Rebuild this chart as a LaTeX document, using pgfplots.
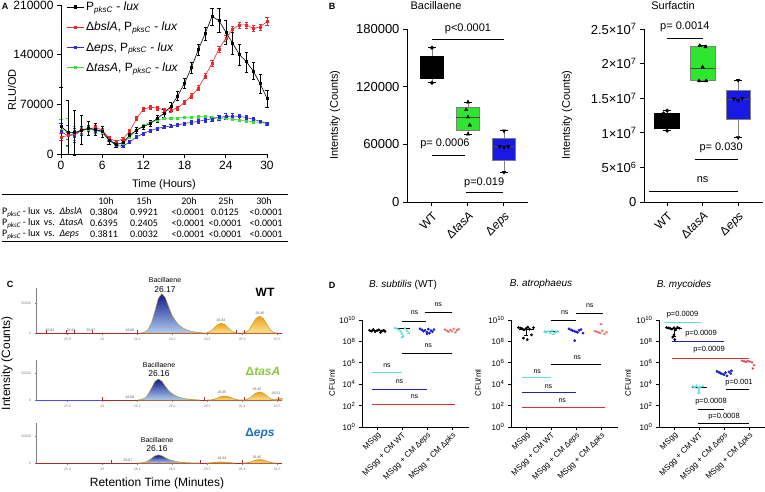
\documentclass[border=0pt]{standalone}
\usepackage{fontspec}
\setmainfont{Liberation Sans}
\newfontfamily\calfont{Carlito}
\usepackage{pgfplots}
\pgfplotsset{compat=1.18}
\newcommand\fs[1]{\fontsize{#1}{#1}\selectfont}

\definecolor{cred}{RGB}{232,40,42}
\definecolor{cblue}{RGB}{45,45,215}
\definecolor{cgreen}{RGB}{60,220,60}
\definecolor{bgreen}{RGB}{45,230,45}
\definecolor{bblue}{RGB}{25,25,230}
\definecolor{dcyan}{RGB}{95,225,225}
\definecolor{dblue}{RGB}{30,30,205}
\definecolor{dred}{RGB}{225,45,45}
\definecolor{dpink}{RGB}{225,95,95}
\definecolor{pkdark}{RGB}{15,25,140}
\definecolor{pklight}{RGB}{175,205,238}
\definecolor{ordark}{RGB}{240,160,20}
\definecolor{orlight}{RGB}{252,228,150}
\definecolor{pkline}{RGB}{190,160,50}
\definecolor{baser}{RGB}{170,45,45}
\definecolor{tasgreen}{RGB}{140,200,60}
\definecolor{epsblue}{RGB}{30,110,190}

\tikzset{ln/.style={line width=1pt}}
\pgfplotsset{
  gp/.style={scale only axis, anchor=south west, clip=false,
    axis x line*=bottom, axis y line*=left, tick align=outside,
    axis line style={line width=1pt}, tick style={black,line width=1pt},
    major tick length=4pt, /pgf/number format/assume math mode=true,
    scaled ticks=false,
    yticklabel style={/pgf/number format/fixed,/pgf/number format/1000 sep={}}},
  cstyle/.style={scale only axis, anchor=south west, clip=false,
    axis x line*=bottom, axis y line*=left, width=246pt,
    xmin=25.81, xmax=26.514, ymin=0, tick align=outside, scaled ticks=false,
    major tick length=1.5pt, tick style={gray,line width=0.3pt},
    axis line style={gray,line width=0.4pt},
    x axis line style={baser,line width=0.9pt},
    xtick={25.9,26,26.1,26.2,26.3,26.4,26.5},
    xticklabels={25.9,26,26.1,26.2,26.3,26.4,26.5},
    ytick={0,50000}, yticklabels={0,50000},
    tick label style={font=\fs{3.5}, text=gray}},
  dstyle/.style={scale only axis, anchor=south west, clip=false,
    axis x line*=bottom, axis y line*=left, width=107pt, height=107pt,
    ymin=1, ymax=1e10, ytick={1,1e2,1e4,1e6,1e8,1e10},
    yticklabels={10\textsuperscript{0},10\textsuperscript{2},10\textsuperscript{4},
      10\textsuperscript{6},10\textsuperscript{8},10\textsuperscript{10}},
    yminorticks=false, xmin=-0.6, xmax=3.68, xtick={0,1,2,3},
    xticklabels={MSgg, MSgg + CM WT, MSgg + CM Δ\textit{eps}, MSgg + CM Δ\textit{pks}},
    xticklabel style={rotate=45, anchor=north east, font=\fs{8}, inner sep=1pt},
    yticklabel style={font=\fs{8}}, tick align=outside, major tick length=3pt,
    axis line style={line width=0.8pt}, tick style={black,line width=0.8pt}},
  wh/.style={gray, line width=0.8pt},
  cap/.style={black, line width=0.8pt},
  md/.style={black!70, line width=0.6pt},
  pa/.style={line width=0.6pt, mark size=1pt,
    error bars/y dir=both, error bars/y explicit,
    error bars/error bar style={line width=0.5pt},
    error bars/error mark options={rotate=90,mark size=1.6pt}}
}

\begin{document}
\begin{tikzpicture}[x=1pt,y=1pt]
\useasboundingbox (0,0) rectangle (765,-491);

% ---------------- Panel A ----------------
\node[font=\bfseries\fs{9}] at (5,-6) {A};
\begin{axis}[gp, at={(61pt,-154pt)}, width=206pt, height=149pt,
  xmin=0, xmax=30, ymin=0, ymax=210000,
  xtick={0,6,12,18,24,30}, ytick={0,70000,140000,210000},
  tick label style={font=\fs{12}},
  legend cell align=left,
  legend style={at={(0.025,1.035)}, anchor=north west, draw=none, fill=none,
    font=\fs{12}, row sep=6pt, inner sep=0pt}]
\addlegendimage{black, mark=square*, mark size=1.2pt, line width=0.8pt}
\addlegendentry{P\textsubscript{\textit{pksC}} - \textit{lux}}
\addlegendimage{cred, mark=square*, mark size=1.2pt, line width=0.8pt}
\addlegendentry{Δ\textit{bslA}, P\textsubscript{\textit{pksC}} - \textit{lux}}
\addlegendimage{cblue, mark=square*, mark size=1.2pt, line width=0.8pt}
\addlegendentry{Δ\textit{eps}, P\textsubscript{\textit{pksC}} - \textit{lux}}
\addlegendimage{cgreen, mark=square*, mark size=1.2pt, line width=0.8pt}
\addlegendentry{Δ\textit{tasA}, P\textsubscript{\textit{pksC}} - \textit{lux}}
% dtasA
\addplot[forget plot, cgreen, mark=square*, pa] coordinates {
 (0,34000)+-(0,15000) (1,31000)+-(0,20000) (2,29000)+-(0,10000) (3,33000)+-(0,5000)
 (4,35000)+-(0,3000) (5,33000)+-(0,3000) (6,31000)+-(0,2500) (7,20000)+-(0,2000)
 (8,14000)+-(0,1500) (9,15000)+-(0,1500) (10,24000)+-(0,1500) (11,33000)+-(0,1500)
 (12,40000)+-(0,1500) (13,45000)+-(0,1500) (14,48000)+-(0,1500) (15,50000)+-(0,1500)
 (16,50500)+-(0,1500) (17,51000)+-(0,1500) (18,51500)+-(0,1500) (19,52000)+-(0,1500)
 (20,52500)+-(0,1500) (21,52500)+-(0,1500) (22,52000)+-(0,1500) (23,51000)+-(0,1500)
 (24,50000)+-(0,1500) (25,49000)+-(0,1500) (26,48000)+-(0,1500) (27,46500)+-(0,1500)
 (28,45500)+-(0,1500) (29,44500)+-(0,1500) (30,43000)+-(0,1500)};
% deps
\addplot[forget plot, cblue, mark=square*, pa] coordinates {
 (0,31500)+-(0,12000) (1,26000)+-(0,14000) (2,27000)+-(0,10000) (3,33000)+-(0,6000)
 (4,36000)+-(0,4000) (5,34000)+-(0,3000) (6,32000)+-(0,3000) (7,22000)+-(0,2500)
 (8,12000)+-(0,2000) (9,11000)+-(0,2000) (10,17000)+-(0,2000) (11,24000)+-(0,2000)
 (12,29000)+-(0,2000) (13,33000)+-(0,2000) (14,36000)+-(0,2000) (15,38000)+-(0,2000)
 (16,39500)+-(0,2000) (17,41000)+-(0,2000) (18,43000)+-(0,2500) (19,44500)+-(0,2500)
 (20,46000)+-(0,2500) (21,48000)+-(0,3000) (22,49500)+-(0,3000) (23,51500)+-(0,3500)
 (24,53000)+-(0,4000) (25,53500)+-(0,4000) (26,53000)+-(0,3500) (27,51500)+-(0,3000)
 (28,49000)+-(0,2500) (29,46000)+-(0,2000) (30,43000)+-(0,2000)};
% dbslA
\addplot[forget plot, cred, mark=square*, pa] coordinates {
 (0,24000)+-(0,5000) (1,26000)+-(0,5000) (2,29000)+-(0,5000) (3,33000)+-(0,4000)
 (4,36000)+-(0,3000) (5,37000)+-(0,3000) (6,34000)+-(0,3000) (7,22000)+-(0,2500)
 (8,18000)+-(0,2000) (9,21000)+-(0,2000) (10,32000)+-(0,2500) (11,50000)+-(0,3000)
 (12,63000)+-(0,3000) (13,66000)+-(0,3000) (14,65000)+-(0,3000) (15,62000)+-(0,3000)
 (16,62000)+-(0,3000) (17,65000)+-(0,3000) (18,73000)+-(0,3000) (19,82000)+-(0,3000)
 (20,93000)+-(0,3500) (21,110000)+-(0,3500) (22,128000)+-(0,4000) (23,148000)+-(0,4000)
 (24,163000)+-(0,4500) (25,176000)+-(0,4500) (26,182000)+-(0,4000) (27,182000)+-(0,4000)
 (28,177000)+-(0,4000) (29,179000)+-(0,4500) (30,187000)+-(0,6000)};
% PpksC-lux
\addplot[forget plot, black, mark=square*, pa] coordinates {
 (0,38500) += (0,55000) -= (0,38500) (1,31000) += (0,45000) -= (0,31000)
 (2,30000)+-(0,32000) (3,34000)+-(0,20000)
 (4,36000)+-(0,10000) (5,35000)+-(0,8000) (6,31500)+-(0,8000) (7,19000)+-(0,5000)
 (8,13000)+-(0,3000) (9,16000)+-(0,4000) (10,26000)+-(0,4000) (11,34000)+-(0,4000)
 (12,38500)+-(0,4000) (13,43000)+-(0,4000) (14,50000)+-(0,5000) (15,57500)+-(0,5000)
 (16,67000)+-(0,6000) (17,82000)+-(0,6000) (18,100000)+-(0,7000) (19,122000)+-(0,8000)
 (20,147000)+-(0,8000) (21,170000)+-(0,9000) (22,194000)+-(0,12000) (23,188000)+-(0,17000)
 (24,172000)+-(0,17000) (25,156000)+-(0,15000) (26,140000)+-(0,15000) (27,130000)+-(0,14000)
 (28,117000)+-(0,12000) (29,99000)+-(0,13000) (30,78500)+-(0,12000)};
\end{axis}
\node[rotate=90, font=\fs{11}] at (12,-90) {RLU/OD};
\node[font=\fs{11}] at (164,-185) {Time (Hours)};

% table under panel A
\draw[line width=1pt] (2,-194) -- (288,-194);
\draw[line width=1pt] (2,-241) -- (288,-241);
\begin{scope}[every node/.style={font=\calfont\fs{10}, inner sep=0pt}]
\node at (106,-201) {10h}; \node at (144,-201) {15h}; \node at (189,-201) {20h};
\node at (226,-201) {25h}; \node at (264,-201) {30h};
\node[anchor=west] at (2,-212.5) {P\textsubscript{\textit{pksC}}\,- lux\, vs.\, \textit{ΔbslA}};
\node[anchor=west] at (2,-223.5) {P\textsubscript{\textit{pksC}}\,- lux\, vs.\, \textit{ΔtasA}};
\node[anchor=west] at (2,-234.5) {P\textsubscript{\textit{pksC}}\,- lux\, vs.\, \textit{Δeps}};
\node at (104,-212.5) {0.3804}; \node at (144,-212.5) {0.9921}; \node at (188,-212.5) {<0.0001};
\node at (225,-212.5) {0.0125}; \node at (266,-212.5) {<0.0001};
\node at (104,-223.5) {0.6395}; \node at (144,-223.5) {0.2405}; \node at (188,-223.5) {<0.0001};
\node at (225,-223.5) {<0.0001}; \node at (266,-223.5) {<0.0001};
\node at (104,-234.5) {0.3811}; \node at (144,-234.5) {0.0032}; \node at (188,-234.5) {<0.0001};
\node at (225,-234.5) {<0.0001}; \node at (266,-234.5) {<0.0001};
\end{scope}

% ---------------- Panel B: Bacillaene ----------------
\node[font=\bfseries\fs{9}] at (332,-6) {B};
\node[font=\fs{11}] at (436,-6) {Bacillaene};
\begin{axis}[gp, at={(407pt,-202pt)}, width=121pt, height=173pt,
  xmin=-0.694, xmax=2.667, ymin=0, ymax=180000,
  xtick={0,1,2}, xticklabels={WT, Δ\textit{tasA}, Δ\textit{eps}},
  xticklabel style={rotate=45, anchor=north east, font=\fs{12}},
  ytick={0,60000,120000,180000}, yticklabel style={font=\fs{13}}]
% WT box
\addplot[wh] coordinates {(0,152000) (0,160500)};
\addplot[wh] coordinates {(0,129000) (0,124000)};
\addplot[cap] coordinates {(-0.11,160500) (0.11,160500)};
\addplot[cap] coordinates {(-0.11,124000) (0.11,124000)};
\addplot[fill=black, draw=black] coordinates {(-0.32,129000) (0.32,129000) (0.32,152000) (-0.32,152000)} -- cycle;
% tasA box
\addplot[wh] coordinates {(1,98800) (1,104000)};
\addplot[wh] coordinates {(1,75000) (1,70700)};
\addplot[cap] coordinates {(0.89,104000) (1.11,104000)};
\addplot[cap] coordinates {(0.89,70700) (1.11,70700)};
\addplot[fill=bgreen, draw=black!50] coordinates {(0.68,75000) (1.32,75000) (1.32,98800) (0.68,98800)} -- cycle;
\addplot[md] coordinates {(0.68,88400) (1.32,88400)};
% eps box
\addplot[wh] coordinates {(2,66500) (2,74000)};
\addplot[wh] coordinates {(2,43000) (2,31000)};
\addplot[cap] coordinates {(1.89,74000) (2.11,74000)};
\addplot[cap] coordinates {(1.89,31000) (2.11,31000)};
\addplot[fill=bblue, draw=black!50] coordinates {(1.68,43000) (2.32,43000) (2.32,66500) (1.68,66500)} -- cycle;
\addplot[md] coordinates {(1.68,57500) (2.32,57500)};
\addplot[only marks, mark=*, mark size=1.8pt, black] coordinates {
  (0,160500) (0,124000) (0,148000) (-0.1,138000) (0.1,133000)};
\addplot[only marks, mark=triangle*, mark size=2pt, black] coordinates {
  (1,104000) (0.95,96000) (1,88400) (1.05,80000) (1,70700)};
\addplot[only marks, mark=triangle*, mark size=2pt, black, mark options={rotate=180}] coordinates {
  (2,74000) (1.88,58000) (2,57000) (2.12,58000) (2,31000)};
\draw[ln] (axis cs:0,169600) -- (axis cs:2,169600);
\node[font=\fs{11}] at (axis cs:1,180000) {p<0.0001};
\draw[ln] (axis cs:0,47900) -- (axis cs:0.92,47900);
\node[font=\fs{11}] at (axis cs:0.36,60300) {p= 0.0006};
\draw[ln] (axis cs:0.94,9400) -- (axis cs:1.97,9400);
\node[font=\fs{11}] at (axis cs:1.45,19800) {p=0.019};
\end{axis}
\node[rotate=90, font=\fs{11}] at (335,-115) {Intentsity (Counts)};

% ---------------- Panel B: Surfactin ----------------
\node[font=\fs{11}] at (673,-6) {Surfactin};
\begin{axis}[gp, at={(644pt,-202pt)}, width=119pt, height=173pt,
  xmin=-0.65, xmax=2.7, ymin=0, ymax=2.5e7,
  xtick={0,1,2}, xticklabels={WT, Δ\textit{tasA}, Δ\textit{eps}},
  xticklabel style={rotate=45, anchor=north east, font=\fs{12}},
  ytick={0,5e6,1e7,1.5e7,2e7,2.5e7},
  yticklabels={0, 5×10\textsuperscript{6}, 1×10\textsuperscript{7},
    1.5×10\textsuperscript{7}, 2×10\textsuperscript{7}, 2.5×10\textsuperscript{7}},
  yticklabel style={font=\fs{13}}]
% WT box
\addplot[wh] coordinates {(0,1.29e7) (0,1.32e7)};
\addplot[wh] coordinates {(0,1.065e7) (0,1.03e7)};
\addplot[cap] coordinates {(-0.12,1.32e7) (0.12,1.32e7)};
\addplot[cap] coordinates {(-0.12,1.03e7) (0.12,1.03e7)};
\addplot[fill=black, draw=black] coordinates {(-0.35,1.065e7) (0.35,1.065e7) (0.35,1.29e7) (-0.35,1.29e7)} -- cycle;
% tasA box
\addplot[wh] coordinates {(1,2.245e7) (1,2.27e7)};
\addplot[cap] coordinates {(0.88,2.27e7) (1.12,2.27e7)};
\addplot[cap] coordinates {(0.88,1.75e7) (1.12,1.75e7)};
\addplot[fill=bgreen, draw=black!50] coordinates {(0.65,1.763e7) (1.35,1.763e7) (1.35,2.245e7) (0.65,2.245e7)} -- cycle;
\addplot[md] coordinates {(0.65,1.93e7) (1.35,1.93e7)};
% eps box
\addplot[wh] coordinates {(2,1.62e7) (2,1.76e7)};
\addplot[wh] coordinates {(2,1.2e7) (2,9.3e6)};
\addplot[cap] coordinates {(1.88,1.76e7) (2.12,1.76e7)};
\addplot[cap] coordinates {(1.88,9.3e6) (2.12,9.3e6)};
\addplot[fill=bblue, draw=black!50] coordinates {(1.65,1.2e7) (2.35,1.2e7) (2.35,1.62e7) (1.65,1.62e7)} -- cycle;
\addplot[md] coordinates {(1.65,1.49e7) (2.35,1.49e7)};
\addplot[only marks, mark=*, mark size=1.8pt, black] coordinates {
  (0,1.32e7) (0,1.03e7) (-0.1,1.28e7) (0.1,1.22e7) (0,1.1e7)};
\addplot[only marks, mark=triangle*, mark size=2pt, black] coordinates {
  (0.92,2.26e7) (1.08,2.24e7) (1,1.95e7) (0.9,1.75e7) (1.1,1.75e7)};
\addplot[only marks, mark=triangle*, mark size=2pt, black, mark options={rotate=180}] coordinates {
  (2,1.76e7) (1.88,1.49e7) (2,1.47e7) (2.12,1.5e7) (2,9.3e6)};
\draw[ln] (axis cs:0,2.37e7) -- (axis cs:1.01,2.37e7);
\node[font=\fs{11}] at (axis cs:0.5,2.53e7) {p= 0.0014};
\draw[ln] (axis cs:0.79,6.2e6) -- (axis cs:2,6.2e6);
\node[font=\fs{11}] at (axis cs:1.52,7.8e6) {p= 0.030};
\draw[ln] (axis cs:-0.5,1.45e6) -- (axis cs:2,1.45e6);
\node[font=\fs{11}] at (axis cs:1,3.2e6) {ns};
\end{axis}
\node[rotate=90, font=\fs{11}] at (567,-115) {Intentsity (Counts)};

% ---------------- Panel C ----------------
\node[font=\bfseries\fs{9}] at (10,-284) {C};
\begin{axis}[cstyle, at={(36pt,-333pt)}, height=45pt, ymax=75000]
\addplot[draw=pkline, line width=0.5pt, top color=pkdark, bottom color=pklight] coordinates {
 (26.11,0) (26.12,1300) (26.13,5200) (26.14,16400) (26.15,36000) (26.16,57600)
 (26.17,65500) (26.18,59000) (26.19,43200) (26.20,28800) (26.21,19600) (26.22,13100)
 (26.23,8500) (26.24,5600) (26.25,3600) (26.26,2300) (26.27,1300) (26.28,650) (26.29,0)} \closedcycle;
\addplot[draw=pkline, line width=0.5pt, top color=ordark, bottom color=orlight] coordinates {
 (26.29,0) (26.30,480) (26.31,3200) (26.32,8800) (26.33,14100) (26.34,16000) (26.35,14100)
 (26.36,8800) (26.37,3200) (26.38,480) (26.39,0)} \closedcycle;
\addplot[draw=pkline, line width=0.5pt, top color=ordark, bottom color=orlight] coordinates {
 (26.40,0) (26.41,840) (26.42,5600) (26.43,15400) (26.44,24600) (26.45,28000) (26.46,24600)
 (26.47,15400) (26.48,5600) (26.49,840) (26.50,0)} \closedcycle;
\end{axis}
\begin{axis}[cstyle, at={(36pt,-400pt)}, height=40pt, ymax=74000]
\addplot[draw=pkline, line width=0.5pt, top color=pkdark, bottom color=pklight] coordinates {
 (26.10,0) (26.11,780) (26.12,3100) (26.13,9700) (26.14,21400) (26.15,34200) (26.16,38900)
 (26.17,35000) (26.18,25700) (26.19,17100) (26.20,11700) (26.21,7800) (26.22,5100)
 (26.23,3300) (26.24,2100) (26.25,1400) (26.26,800) (26.27,400) (26.28,0)} \closedcycle;
\addplot[draw=pkline, line width=0.5pt, top color=ordark, bottom color=orlight] coordinates {
 (26.30,0) (26.31,220) (26.32,1500) (26.33,4100) (26.34,6500) (26.35,7400) (26.36,6500)
 (26.37,4100) (26.38,1500) (26.39,220) (26.40,0)} \closedcycle;
\addplot[draw=pkline, line width=0.5pt, top color=ordark, bottom color=orlight] coordinates {
 (26.40,0) (26.41,440) (26.42,3000) (26.43,8100) (26.44,13000) (26.45,14800) (26.46,13000)
 (26.47,8100) (26.48,3000) (26.49,440) (26.50,0)} \closedcycle;
\addplot[draw=pkline, line width=0.5pt, top color=ordark, bottom color=orlight] coordinates {
 (26.49,0) (26.50,1600) (26.51,3000) (26.514,2800)} \closedcycle;
\addplot[blue!70, line width=0.9pt] coordinates {(25.81,0) (26.0,0)};
\end{axis}
\begin{axis}[cstyle, at={(36pt,-463pt)}, height=40pt, ymax=74000]
\addplot[draw=pkline, line width=0.5pt, top color=pkdark, bottom color=pklight] coordinates {
 (26.10,0) (26.11,300) (26.12,1200) (26.13,3750) (26.14,8250) (26.15,13200) (26.16,15000)
 (26.17,13500) (26.18,9900) (26.19,6600) (26.20,4500) (26.21,3000) (26.22,1950)
 (26.23,1300) (26.24,800) (26.25,500) (26.26,300) (26.27,150) (26.28,0)} \closedcycle;
\addplot[draw=pkline, line width=0.5pt, top color=ordark, bottom color=orlight] coordinates {
 (26.30,0) (26.32,1100) (26.33,1800) (26.34,2000) (26.35,1800) (26.36,1100) (26.38,0)} \closedcycle;
\addplot[draw=pkline, line width=0.5pt, top color=ordark, bottom color=orlight] coordinates {
 (26.40,0) (26.41,200) (26.42,1300) (26.43,3600) (26.44,5700) (26.45,6500) (26.46,5700)
 (26.47,3600) (26.48,1300) (26.49,200) (26.50,0)} \closedcycle;
\end{axis}
% peak boundary ticks and labels
\begin{scope}[baser, line width=0.6pt]
\foreach \px in {46.5,66,74.5,92,137,236,244} \draw (\px,-333) -- (\px,-330);
\foreach \px in {102,204,244,278} \draw (\px,-400) -- (\px,-397);
\foreach \px in {111,200,242} \draw (\px,-463) -- (\px,-460);
\end{scope}
\begin{scope}[every node/.style={font=\fs{3.5}, text=gray!70!black, inner sep=0pt}]
\node at (50,-330) {25.83}; \node at (71,-330) {25.92}; \node at (91,-330) {25.97};
\node at (130,-330) {26.08}; \node at (221,-320) {26.34}; \node at (260,-313) {26.45};
\node at (130,-397) {26.08}; \node at (222,-392) {26.35}; \node at (257,-389) {26.45};
\node at (276,-393) {26.51};
\node at (128,-460) {26.07}; \node at (222,-458) {26.34}; \node at (257,-457) {26.45};
\end{scope}
\node[font=\fs{7}] at (165,-280) {Bacillaene};
\node[font=\fs{8.5}] at (165,-290) {26.17};
\node[font=\bfseries\fs{12}] at (265,-292) {WT};
\node[font=\fs{7}] at (159,-365) {Bacillaene};
\node[font=\fs{8.5}] at (159,-374) {26.16};
\node[font=\bfseries\fs{12}, text=tasgreen] at (263,-371) {Δ\textit{tasA}};
\node[font=\fs{7}] at (157,-440) {Bacillaene};
\node[font=\fs{8.5}] at (157,-449) {26.16};
\node[font=\bfseries\fs{12}, text=epsblue] at (260,-434) {Δ\textit{eps}};
\node[rotate=90, font=\fs{12}] at (7,-363) {Intensity (Counts)};
\node[font=\fs{12}] at (157,-483) {Retention Time (Minutes)};

% ---------------- Panel D ----------------
\node[font=\bfseries\fs{9}] at (332,-285) {D};
\node[font=\fs{10}] at (403,-285) {\textit{B. subtilis} (WT)};
\node[font=\fs{10}] at (541,-284) {\textit{B. atrophaeus}};
\node[font=\fs{10}] at (684,-285) {\textit{B. mycoides}};
% D1
\begin{semilogyaxis}[dstyle, at={(362pt,-427pt)}]
\addplot[only marks, mark=*, mark size=1.2pt, black] coordinates {
 (-0.3,1.1e9) (-0.22,9e8) (-0.15,1.3e9) (-0.08,8e8) (0,1.0e9) (0.07,1.2e9)
 (0.14,7e8) (0.2,9.5e8) (0.27,1.1e9) (0.32,8.5e8)};
\addplot[only marks, mark=triangle*, mark size=1.3pt, dcyan] coordinates {
 (0.72,1.8e9) (0.8,1.5e9) (0.88,1.2e9) (0.95,8e8) (1,5e8) (1.05,3e8)
 (1.12,1.6e9) (1.2,1.0e9) (1.27,6e8) (1.0,2.5e8)};
\addplot[only marks, mark=*, mark size=1.2pt, dblue] coordinates {
 (1.72,1.5e9) (1.8,1.2e9) (1.86,9e8) (1.92,1.1e9) (2,7e8) (2.05,1.4e9)
 (2.1,6e8) (2.16,1.0e9) (2.22,8e8) (2.28,1.3e9) (2,5e8)};
\addplot[only marks, mark=asterisk, mark size=1.4pt, dpink] coordinates {
 (2.72,1.3e9) (2.8,1.0e9) (2.86,8e8) (2.93,1.2e9) (3,9e8) (3.07,1.5e9)
 (3.14,7e8) (3.2,1.1e9) (3.27,1.4e9)};
\draw[black, line width=0.8pt] (axis cs:-0.3,1e9) -- (axis cs:0.3,1e9);
\draw[black, line width=0.8pt] (axis cs:0.7,1.5e9) -- (axis cs:1.3,1.5e9);
\draw[ln] (axis cs:1.9,5.6e10) -- (axis cs:3,5.6e10);
\node[font=\fs{7}] at (axis cs:2.45,2.5e11) {ns};
\draw[ln] (axis cs:1,7.9e9) -- (axis cs:1.96,7.9e9);
\node[font=\fs{7}] at (axis cs:1.5,4.5e10) {ns};
\draw[ln] (axis cs:1,7.9e6) -- (axis cs:3,7.9e6);
\node[font=\fs{7}] at (axis cs:2.05,3.7e7) {ns};
\draw[ln, dcyan] (axis cs:-0.2,1.12e5) -- (axis cs:1,1.12e5);
\node[font=\fs{7}] at (axis cs:0.4,5e5) {ns};
\draw[ln, dblue] (axis cs:-0.2,3.5e3) -- (axis cs:2,3.5e3);
\node[font=\fs{7}] at (axis cs:0.9,1.6e4) {ns};
\draw[ln, dred] (axis cs:-0.2,115) -- (axis cs:3.1,115);
\node[font=\fs{7}] at (axis cs:1.5,630) {ns};
\end{semilogyaxis}
\node[rotate=90, font=\fs{8}] at (332,-383) {CFU/ml};
% D2
\begin{semilogyaxis}[dstyle, at={(511pt,-427pt)}]
\addplot[only marks, mark=*, mark size=1.2pt, black] coordinates {
 (-0.3,2e9) (-0.22,1.8e9) (-0.15,1.5e9) (-0.08,1.2e9) (0,1.6e9) (0.07,2.2e9)
 (0.14,1.4e9) (0.22,4e8) (-0.1,2e8) (0.05,1.5e8) (0.3,1.9e9)};
\addplot[only marks, mark=triangle*, mark size=1.3pt, dcyan] coordinates {
 (0.75,8e8) (0.82,7e8) (0.9,9e8) (0.97,6e8) (1.04,1e9) (1.1,5e8) (1.18,7.5e8) (1.26,8.5e8)};
\addplot[only marks, mark=*, mark size=1.2pt, dblue] coordinates {
 (1.72,1.5e9) (1.8,1.2e9) (1.86,1e9) (1.93,9e8) (2,8e8) (2.06,7e8)
 (2.12,1.1e9) (2.2,1.3e9) (1.95,1.2e8) (2.28,6e8)};
\addplot[only marks, mark=asterisk, mark size=1.4pt, dpink] coordinates {
 (3,4e9) (2.75,9e8) (2.83,8e8) (2.9,7e8) (2.97,6e8) (3.05,1e9) (3.13,5e8) (3.22,7e8)};
\draw[black, line width=0.8pt] (axis cs:-0.3,1.3e9) -- (axis cs:0.3,1.3e9);
\draw[black, line width=0.6pt] (axis cs:0,4e8) -- (axis cs:0,2e9);
\draw[black, line width=0.6pt] (axis cs:-0.08,4e8) -- (axis cs:0.08,4e8);
\draw[black, line width=0.8pt] (axis cs:0.7,8e8) -- (axis cs:1.3,8e8);
\draw[ln] (axis cs:2,4.5e10) -- (axis cs:3.07,4.5e10);
\node[font=\fs{7}] at (axis cs:2.55,2e11) {ns};
\draw[ln] (axis cs:1,1e10) -- (axis cs:2,1e10);
\node[font=\fs{7}] at (axis cs:1.55,4.5e10) {ns};
\draw[ln] (axis cs:1,6.3e5) -- (axis cs:3,6.3e5);
\node[font=\fs{7}] at (axis cs:2.05,2.8e6) {ns};
\draw[ln, dcyan] (axis cs:-0.17,4e4) -- (axis cs:1,4e4);
\node[font=\fs{7}] at (axis cs:0.45,1.6e5) {ns};
\draw[ln, dblue] (axis cs:-0.17,1.6e3) -- (axis cs:2,1.6e3);
\node[font=\fs{7}] at (axis cs:0.9,5.6e3) {ns};
\draw[ln, dred] (axis cs:-0.17,74) -- (axis cs:3.15,74);
\node[font=\fs{7}] at (axis cs:1.45,280) {ns};
\end{semilogyaxis}
\node[rotate=90, font=\fs{8}] at (478,-383) {CFU/ml};
% D3
\begin{semilogyaxis}[dstyle, at={(659pt,-427pt)}]
\addplot[only marks, mark=*, mark size=1.2pt, black] coordinates {
 (-0.3,2e9) (-0.22,1.8e9) (-0.15,1.6e9) (-0.08,1.4e9) (0,1.9e9) (0.07,1.2e9)
 (0.14,2.1e9) (0.22,1.7e9) (0,4e8) (-0.05,2.5e8) (0.03,1.5e8)};
\addplot[only marks, mark=triangle*, mark size=1.3pt, dcyan] coordinates {
 (0.75,6e3) (0.82,5e3) (0.9,7e3) (0.97,4.5e3) (1.04,5.5e3) (1,3e3) (1,2e3) (1.15,6.5e3) (1,1.5e3)};
\addplot[only marks, mark=*, mark size=1.2pt, dblue] coordinates {
 (1.72,1.6e5) (1.8,1.3e5) (1.86,1.1e5) (1.93,9e4) (2,8e4) (2.06,1.2e5)
 (2.12,6e4) (2.2,1.4e5) (2.27,1e5) (2.3,1.8e5)};
\addplot[only marks, mark=asterisk, mark size=1.4pt, dred] coordinates {
 (2.72,1.6e6) (2.8,1.4e6) (2.88,1.2e6) (2.95,1.5e6) (3.03,1.3e6) (3.12,1.1e6) (3.2,6e5) (3.15,3e5)};
\draw[black, line width=0.8pt] (axis cs:-0.3,1.7e9) -- (axis cs:0.3,1.7e9);
\draw[black, line width=0.6pt] (axis cs:0,3e8) -- (axis cs:0,1.7e9);
\draw[black, line width=0.6pt] (axis cs:-0.08,3e8) -- (axis cs:0.08,3e8);
\draw[black, line width=0.8pt] (axis cs:0.7,5.5e3) -- (axis cs:1.3,5.5e3);
\draw[ln, dcyan] (axis cs:-0.42,6.3e9) -- (axis cs:1.08,6.3e9);
\node[font=\fs{7.5}] at (axis cs:0.34,3.5e10) {p=0.0009};
\draw[ln, dblue] (axis cs:-0.07,8.9e7) -- (axis cs:2,8.9e7);
\node[font=\fs{7.5}] at (axis cs:1.08,5e8) {p=0.0009};
\draw[ln, dred] (axis cs:-0.07,2.8e6) -- (axis cs:3,2.8e6);
\node[font=\fs{7.5}] at (axis cs:1.4,1.6e7) {p=0.0009};
\draw[ln] (axis cs:2.07,3.5e3) -- (axis cs:3,3.5e3);
\node[font=\fs{7.5}] at (axis cs:2.6,1.26e4) {p=0.001};
\draw[ln] (axis cs:0.96,48) -- (axis cs:2,48);
\node[font=\fs{7.5}] at (axis cs:1.48,214) {p=0.0008};
\draw[ln] (axis cs:0.96,2.3) -- (axis cs:3,2.3);
\node[font=\fs{7.5}] at (axis cs:2,8.5) {p=0.0008};
\end{semilogyaxis}
\node[rotate=90, font=\fs{8}] at (628,-383) {CFU/ml};
\end{tikzpicture}
\end{document}
